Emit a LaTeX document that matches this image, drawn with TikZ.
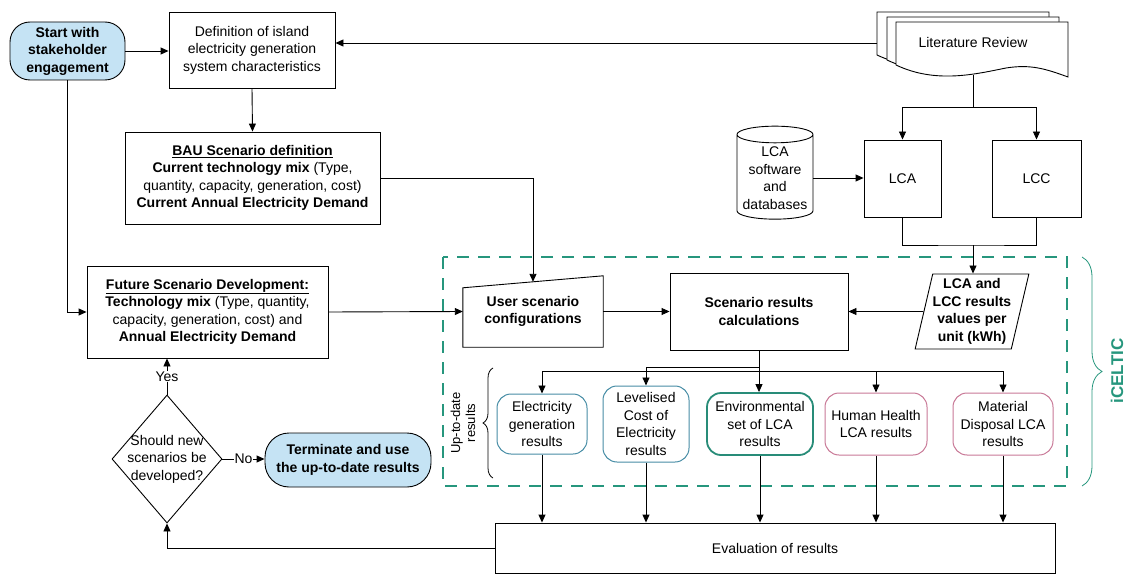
\documentclass[tikz,border=0pt]{standalone}
\usepackage{fontspec}
\setmainfont{Liberation Sans}
\usepackage{tikz}
\usetikzlibrary{arrows.meta,positioning,shapes.geometric,calc,decorations.pathreplacing}

\definecolor{startblue}{RGB}{197,227,244}
\definecolor{celticgreen}{RGB}{38,150,125}
\definecolor{resblue}{RGB}{70,140,165}
\definecolor{resgreen}{RGB}{40,140,120}
\definecolor{respink}{RGB}{200,120,150}

\newcommand{\bodyfont}{\fontsize{14}{17.5}\selectfont}
\newcommand{\litsheet}[2]{%
  \begin{scope}[shift={(#1,#2)}]
    \draw[line width=0.9pt, fill=white] (0,0) -- (172,0) -- (172,55)
      .. controls (150,47) and (135,42) .. (110,46)
      .. controls (80,52) and (40,62) .. (0,43) -- cycle;
  \end{scope}}

\begin{document}
\begin{tikzpicture}[
  x=1pt, y=-1pt,
  font=\bodyfont,
  box/.style={draw, line width=0.9pt, align=center, inner sep=2pt},
  terminal/.style={box, rounded corners=20pt, fill=startblue, font=\bodyfont\bfseries},
  result/.style={draw, line width=1pt, rounded corners=14pt, align=center, inner sep=1pt},
  arrow/.style={-{Triangle[length=8pt, width=7pt]}, line width=0.9pt},
  celtic/.style={draw=celticgreen, dash pattern=on 12pt off 9pt, line width=2.2pt}
]
\useasboundingbox (0,0) rectangle (1127,575);

% iCELTIC frame
\draw[celtic] (443,257) rectangle (1067,486);

% left column
\node[terminal, minimum width=115pt, minimum height=58pt] (start) at (67.5,51) {Start with\\stakeholder\\engagement};
\node[box, minimum width=166pt, minimum height=76pt] (def) at (252,50) {Definition of island\\electricity generation\\system characteristics};
\node[box, minimum width=255pt, minimum height=92pt] (bau) at (252.5,178) {\underline{\textbf{BAU Scenario definition}}\\ \textbf{Current technology mix} (Type,\\ quantity, capacity, generation, cost)\\ \textbf{Current Annual Electricity Demand}};
\node[box, minimum width=241pt, minimum height=92pt] (fut) at (207.5,312) {\underline{\textbf{Future Scenario Development:}}\\ \textbf{Technology mix} (Type, quantity,\\ capacity, generation, cost) and\\ \textbf{Annual Electricity Demand}};
\node[diamond, draw, line width=0.9pt, align=center, inner sep=-6pt, minimum width=110pt, minimum height=128pt] (dia) at (167,459) {Should new\\scenarios be\\developed?};
\node[terminal, rounded corners=24pt, minimum width=166pt, minimum height=54pt] (term) at (348,460) {Terminate and use\\the up-to-date results};

% literature review and data sources
\litsheet{877}{12}
\litsheet{887}{17}
\litsheet{896}{22}
\node[minimum width=150pt, minimum height=66pt, inner sep=0pt] (lit) at (973,42) {Literature Review};
\coordinate (litback) at (877,43);
\node[box, minimum width=77pt, minimum height=77pt] (lca) at (902.5,178.5) {LCA};
\node[box, minimum width=89pt, minimum height=77pt] (lcc) at (1036.5,178.5) {LCC};
\node[cylinder, shape border rotate=90, aspect=0.25, draw, line width=0.9pt, align=center, inner sep=1pt, minimum width=76pt, minimum height=93pt] (db) at (775,178) {LCA\\software\\and\\databases};

% iCELTIC tool
\node[align=center, font=\bodyfont\bfseries, minimum width=140pt, minimum height=71pt] (user) at (533,311.5) {User scenario\\configurations};
\draw[line width=0.9pt] (user.south west) -- (user.south east) -- (user.north east) -- ($(user.north west)+(0,12)$) -- cycle;
\coordinate (userin) at ($(user.north)+(0,6)$);
\node[box, font=\bodyfont\bfseries, minimum width=178pt, minimum height=77pt] (scen) at (759,311.5) {Scenario results\\calculations};
\node[trapezium, trapezium left angle=75, trapezium right angle=105, trapezium stretches=true, draw, line width=0.9pt, align=center, inner sep=0pt, font=\bodyfont\bfseries, minimum width=107pt, minimum height=75pt] (vals) at (972,311.5) {LCA and\\LCC results\\values per\\unit (kWh)};

\node[result, draw=resblue, minimum width=90pt, minimum height=60pt] (elec) at (542,424) {Electricity\\generation\\results};
\node[result, draw=resblue, minimum width=86pt, minimum height=76pt] (lcoe) at (646,424) {Levelised\\Cost of\\Electricity\\results};
\node[result, draw=resgreen, line width=1.8pt, minimum width=106pt, minimum height=62pt] (env) at (760,424) {Environmental\\set of LCA\\results};
\node[result, draw=respink, minimum width=102pt, minimum height=62pt] (hh) at (876,424) {Human Health\\LCA results};
\node[result, draw=respink, minimum width=100pt, minimum height=62pt] (mat) at (1003,424) {Material\\Disposal LCA\\results};

\node[box, minimum width=560pt, minimum height=50pt] (eval) at (775,548) {Evaluation of results};

% braces
\draw[decorate, decoration={brace, amplitude=10pt}, line width=0.8pt] (493,478) -- (493,368);
\node[rotate=90, align=center, font=\fontsize{13}{15}\selectfont] (uptodate) at (463,423) {Up-to-date\\results};
\draw[decorate, decoration={brace, amplitude=20pt}, draw=celticgreen, line width=0.8pt] (1082,257) -- (1082,486);
\node[rotate=90, text=celticgreen, font=\fontsize{17}{20}\selectfont\bfseries] (celticlbl) at (1117,371) {iCELTIC};

% connectors
\draw[arrow] (start.east) -- (start.east -| def.west);
\draw[arrow] (start.south) |- (fut.west);
\draw[arrow] (def.south) -- (bau.north);
\draw[arrow] (litback) -- (litback -| def.east);
\coordinate (litfork) at (973,107);
\draw[line width=0.9pt] (lit.south) -- (litfork);
\draw[arrow] (litfork) -| (lca.north);
\draw[arrow] (litfork) -| (lcc.north);
\draw[arrow] (db.east) -- (db.east -| lca.west);
\coordinate (lcjoin) at (973,245);
\draw[line width=0.9pt] (lca.south) |- (lcjoin) -| (lcc.south);
\draw[arrow] (lcjoin) -- (lcjoin |- vals.north);
\draw[arrow] (bau.east) -| (userin);
\draw[arrow] (fut.east) -- (user.west);
\draw[arrow] (user.east) -- (scen.west);
\draw[arrow] (vals.west) -- (scen.east);

\coordinate (busmain) at (759,371);
\coordinate (busup) at (759,367);
\draw[line width=0.9pt] (scen.south) -- (busmain);
\draw[arrow] (busmain) -| (elec.north);
\draw[arrow] (busup) -| (lcoe.north);
\draw[arrow] (busmain) -- (busmain |- env.north);
\draw[arrow] (busmain) -| (hh.north);
\draw[arrow] (busmain) -| (mat.north);
\foreach \r in {elec,lcoe,env,hh,mat}
  \draw[arrow] (\r.south) -- (\r.south |- eval.north);

\draw[arrow] (eval.west) -| (dia.south);
\draw[arrow] (dia.north) -- node[fill=white, inner sep=1pt] {Yes} (dia.north |- fut.south);
\draw[arrow] (dia.east) -- node[fill=white, inner sep=1pt] {No} (dia.east -| term.west);
\end{tikzpicture}
\end{document}
